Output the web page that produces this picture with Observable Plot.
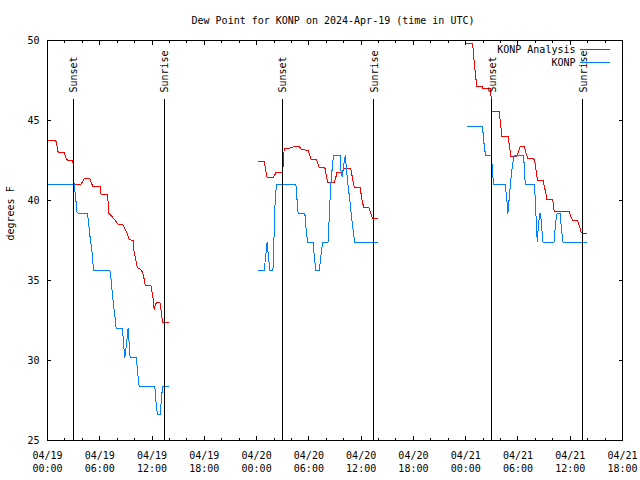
<!DOCTYPE html>
<html><head><meta charset="utf-8">
<script src="https://cdn.jsdelivr.net/npm/d3@7"></script>
<script src="https://cdn.jsdelivr.net/npm/@observablehq/plot@0.6"></script>
<style>body{margin:0;background:#fff}</style>
</head><body><div id="chart"></div>
<script>
// time = hours since 2024-04-19 00:00 UTC, value = dew point (deg F)
const analysisDay19 = [[0.0,43.75],[0.95,43.75],[1.15,43.3],[1.22,43.0],[1.91,43.0],[2.1,42.7],[2.3,42.5],[2.87,42.5],[2.94,42.3],[3.05,41.0],[3.82,41.0],[4.2,41.35],[4.89,41.35],[5.17,40.9],[6.04,40.9],[6.12,40.4],[6.89,40.4],[7.04,39.2],[7.21,39.1],[7.65,38.85],[8.11,38.5],[8.61,38.5],[8.79,38.33],[8.99,38.1],[9.18,37.9],[9.37,37.55],[9.83,37.5],[9.94,36.8],[10.14,36.25],[10.33,35.8],[10.71,35.7],[10.91,35.5],[11.09,35.1],[11.21,34.7],[11.86,34.7],[11.97,34.4],[12.12,33.85],[12.24,33.2],[12.35,33.45],[12.55,33.65],[12.89,33.65],[13.0,33.3],[13.12,32.8],[13.2,32.4],[13.89,32.4]];
const analysisDay20 = [[24.18,42.44],[24.87,42.44],[24.95,42.19],[25.18,41.46],[25.95,41.46],[26.21,41.73],[26.98,41.73],[27.05,42.19],[27.13,42.92],[27.17,43.23],[27.93,43.29],[28.31,43.37],[28.89,43.37],[29.16,43.19],[29.92,43.12],[30.23,42.6],[30.88,42.54],[31.19,42.08],[31.84,42.04],[32.15,41.15],[32.9,41.1],[33.1,41.46],[33.22,41.75],[33.87,41.79],[33.98,41.98],[34.82,41.98],[35.02,41.35],[35.2,40.83],[35.89,40.79],[36.08,40.1],[36.28,39.58],[36.92,39.54],[37.12,39.17],[37.31,38.85],[37.89,38.85]];
const analysisDay21 = [[48.03,49.79],[48.8,49.79],[48.87,49.37],[48.99,48.54],[49.18,47.6],[49.25,47.12],[49.94,47.12],[50.0,46.98],[50.82,46.98],[50.9,46.6],[51.0,45.56],[51.85,45.56],[52.16,44.0],[52.88,44.0],[53.19,42.75],[53.88,42.75],[54.15,43.23],[54.26,43.37],[54.72,43.37],[54.91,43.02],[55.11,42.65],[55.8,42.65],[55.98,42.29],[56.14,41.67],[56.26,41.25],[56.9,41.25],[57.01,40.94],[57.21,40.42],[57.33,40.06],[57.98,40.06],[58.09,39.69],[58.16,39.31],[59.88,39.31],[60.07,39.0],[60.27,38.75],[60.85,38.75],[61.04,38.44],[61.24,38.02],[61.43,37.92],[61.89,37.92]];

const konpDay19 = [[0,41.0],[3.05,41.0],[3.25,40.1],[3.36,39.3],[3.56,39.2],[4.59,39.2],[4.78,38.3],[4.89,37.7],[5.05,37.1],[5.17,36.45],[5.28,35.6],[7.19,35.6],[7.35,34.8],[7.46,34.06],[7.58,33.5],[7.73,32.8],[7.88,32.0],[8.61,32.0],[8.73,31.04],[8.87,30.2],[9.07,31.0],[9.18,31.7],[9.25,32.0],[9.33,31.45],[9.48,30.2],[10.22,30.2],[10.33,29.3],[10.52,28.4],[12.32,28.4],[12.43,27.5],[12.63,26.6],[12.93,26.6],[13.0,27.1],[13.12,27.9],[13.24,28.4],[13.89,28.4]];
const konpDay20 = [[24.18,35.6],[24.87,35.6],[25.03,36.46],[25.21,37.4],[25.37,36.46],[25.52,35.6],[25.87,35.6],[25.95,36.46],[26.02,38.29],[26.14,40.1],[26.29,41.0],[28.51,41.0],[28.62,40.2],[28.77,39.2],[29.54,39.2],[29.66,38.33],[29.85,37.4],[30.5,37.4],[30.61,36.56],[30.8,35.6],[31.19,35.6],[31.57,37.4],[32.22,37.4],[32.36,39.27],[32.52,41.04],[32.71,42.2],[32.83,42.8],[33.59,42.8],[33.68,41.88],[33.83,41.5],[33.98,42.19],[34.17,42.8],[34.33,41.88],[34.52,40.83],[34.71,40.0],[34.9,38.96],[35.09,38.13],[35.25,37.4],[37.89,37.4]];
const konpDay21 = [[48.14,44.6],[49.94,44.6],[50.06,43.75],[50.28,42.8],[50.97,42.8],[51.05,42.0],[51.2,41.0],[52.54,41.0],[52.7,40.17],[52.85,39.2],[53.0,40.17],[53.19,41.35],[53.39,42.29],[53.57,42.8],[54.65,42.8],[54.84,41.0],[55.87,41.0],[55.98,40.17],[56.06,39.2],[56.14,38.33],[56.21,37.4],[56.33,38.33],[56.49,39.2],[56.6,39.2],[56.72,38.33],[56.87,37.4],[58.16,37.4],[58.28,38.33],[58.44,39.1],[58.55,39.2],[58.85,39.2],[58.97,38.33],[59.16,37.4],[61.92,37.4]];

const sunHours = [2.94, 13.39, 26.95, 37.41, 51.0, 61.42];
const sunLabels = ["Sunset", "Sunrise", "Sunset", "Sunrise", "Sunset", "Sunrise"];

const xTicks = [0, 6, 12, 18, 24, 30, 36, 42, 48, 54, 60, 66];
const xTickDates = ["04/19","04/19","04/19","04/19","04/20","04/20","04/20","04/20","04/21","04/21","04/21","04/21"];
const xTickTimes = ["00:00","06:00","12:00","18:00","00:00","06:00","12:00","18:00","00:00","06:00","12:00","18:00"];
const xMinorTicks = d3.range(0, 67, 2);
const yTicks = [25, 30, 35, 40, 45, 50];

const seriesNames = ["KONP Analysis", "KONP"];
const seriesColors = ["#ff0000", "#0080ff"];

const toRows = (segs) => segs.flatMap((pts, s) => pts.map(([h, v]) => ({h, v, seg: s})));
const analysisRows = toRows([analysisDay19, analysisDay20, analysisDay21]);
const konpRows = toRows([konpDay19, konpDay20, konpDay21]);
const sunEvents = sunHours.map((h, i) => ({h, label: sunLabels[i]}));

const crisp = {shapeRendering: "crispEdges"};
const noText = () => "";

const plot = Plot.plot({
  width: 640, height: 480,
  marginLeft: 47, marginRight: 18, marginTop: 40, marginBottom: 40,
  x: {domain: [0, 66]},
  y: {domain: [25, 50]},
  style: {fontFamily: "'DejaVu Sans Mono', monospace", fontSize: "10px", background: "#fff", color: "#000", overflow: "visible"},
  marks: [
    Plot.line(analysisRows, {x: "h", y: "v", z: "seg", stroke: seriesColors[0], strokeWidth: 1, ...crisp}),
    Plot.line(konpRows, {x: "h", y: "v", z: "seg", stroke: seriesColors[1], strokeWidth: 1, ...crisp}),
    Plot.ruleX(sunEvents, {x: "h", insetTop: 59, stroke: "#000", strokeWidth: 1, ...crisp}),
    Plot.text(sunEvents, {x: "h", text: "label", frameAnchor: "top", dy: 52, dx: 1, rotate: -90, textAnchor: "start", lineAnchor: "middle", fontSize: 10, fill: "#000"}),
    Plot.frame({stroke: "#000", ...crisp}),
    Plot.axisX(xTicks, {anchor: "bottom", tickSize: 0, tickPadding: 9, lineHeight: 1.3, label: null,
      tickFormat: d => xTickDates[xTicks.indexOf(d)] + "\n" + xTickTimes[xTicks.indexOf(d)]}),
    Plot.axisX(xTicks, {anchor: "bottom", tickSize: -4, tickFormat: noText, label: null, ...crisp}),
    Plot.axisX(xMinorTicks, {anchor: "bottom", tickSize: -2, tickFormat: noText, label: null, ...crisp}),
    Plot.axisX(xTicks, {anchor: "top", tickSize: -4, tickFormat: noText, label: null, ...crisp}),
    Plot.axisX(xMinorTicks, {anchor: "top", tickSize: -2, tickFormat: noText, label: null, ...crisp}),
    Plot.axisY(yTicks, {anchor: "left", tickSize: 0, tickPadding: 8, label: null}),
    Plot.axisY(yTicks, {anchor: "left", tickSize: -4, tickFormat: noText, label: null, ...crisp}),
    Plot.axisY(yTicks, {anchor: "right", tickSize: -4, tickFormat: noText, label: null, ...crisp}),
    Plot.text(["degrees F"], {text: d => d, frameAnchor: "left", dx: -37, rotate: -90, lineAnchor: "middle", fontSize: 10, fill: "#000"}),
    Plot.text(["Dew Point for KONP on 2024-Apr-19 (time in UTC)"], {text: d => d, frameAnchor: "top", dy: -20, dx: -2, lineAnchor: "middle", fontSize: 10, fill: "#000"}),
    Plot.text([seriesNames[0]], {text: d => d, frameAnchor: "top-right", textAnchor: "end", lineAnchor: "middle", dx: -47, dy: 9.5, fontSize: 10, fill: "#000"}),
    Plot.text([seriesNames[1]], {text: d => d, frameAnchor: "top-right", textAnchor: "end", lineAnchor: "middle", dx: -47, dy: 22.5, fontSize: 10, fill: "#000"})
  ]
});

// legend sample lines
const svg = d3.select(plot);
[49.5, 62.5].forEach((y, i) => {
  svg.append("line").attr("x1", 580).attr("x2", 610).attr("y1", y).attr("y2", y)
    .attr("stroke", seriesColors[i]).attr("stroke-width", 1).attr("shape-rendering", "crispEdges");
});
document.getElementById("chart").appendChild(plot);
</script>
</body></html>
